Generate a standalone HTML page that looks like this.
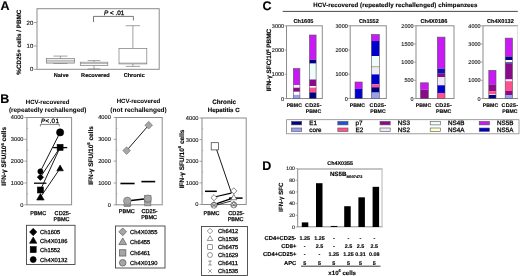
<!DOCTYPE html>
<html><head><meta charset="utf-8"><style>
html,body{margin:0;padding:0;background:#fff;overflow:hidden;}
svg{display:block;will-change:transform;font-family:"Liberation Sans", sans-serif;text-rendering:geometricPrecision;}
text{stroke:#000;stroke-width:0.25px;}
text[font-weight=bold]{stroke-width:0.13px;}
text.lt{stroke-width:0.02px;}
text.tk{stroke-width:0.12px;}
</style></head><body>
<svg width="520" height="276" viewBox="0 0 520 276">
<rect width="520" height="276" fill="#fff"/>
<text x="0.5" y="10.2" font-size="12.5" font-weight="bold" text-anchor="start" fill="#000" >A</text>
<rect x="37" y="8.7" width="122.2" height="60.6" fill="none" stroke="#8c8c8c" stroke-width="1.0"/>
<line x1="34" y1="69.3" x2="37" y2="69.3" stroke="#8c8c8c" stroke-width="0.8"/>
<text x="33.3" y="71.4" font-size="6" font-weight="normal" text-anchor="end" fill="#222" class="tk">0</text>
<line x1="34" y1="46" x2="37" y2="46" stroke="#8c8c8c" stroke-width="0.8"/>
<text x="33.3" y="48.1" font-size="6" font-weight="normal" text-anchor="end" fill="#222" class="tk">10</text>
<line x1="34" y1="22.5" x2="37" y2="22.5" stroke="#8c8c8c" stroke-width="0.8"/>
<text x="33.3" y="24.6" font-size="6" font-weight="normal" text-anchor="end" fill="#222" class="tk">20</text>
<text transform="translate(20.7,42.2) rotate(-90)" font-size="6.3" font-weight="bold" text-anchor="middle" fill="#000">%CD25+ cells / PBMC</text>
<line x1="60.45" y1="56.1" x2="60.45" y2="58.6" stroke="#7a7a7a" stroke-width="0.7"/>
<line x1="53.45" y1="56.1" x2="67.45" y2="56.1" stroke="#7a7a7a" stroke-width="0.7"/>
<line x1="60.45" y1="63.1" x2="60.45" y2="63.5" stroke="#7a7a7a" stroke-width="0.7"/>
<line x1="53.45" y1="63.5" x2="67.45" y2="63.5" stroke="#7a7a7a" stroke-width="0.7"/>
<rect x="46.3" y="58.6" width="28.3" height="4.5" fill="#fff" stroke="#7a7a7a" stroke-width="0.7"/>
<line x1="46.3" y1="60.3" x2="74.6" y2="60.3" stroke="#7a7a7a" stroke-width="0.6"/>
<line x1="46.3" y1="61.9" x2="74.6" y2="61.9" stroke="#7a7a7a" stroke-width="0.6"/>
<line x1="94.05" y1="60.6" x2="94.05" y2="62.2" stroke="#7a7a7a" stroke-width="0.7"/>
<line x1="87.75" y1="60.6" x2="100.35" y2="60.6" stroke="#7a7a7a" stroke-width="0.7"/>
<line x1="94.05" y1="65.5" x2="94.05" y2="69" stroke="#7a7a7a" stroke-width="0.7"/>
<line x1="87.75" y1="69" x2="100.35" y2="69" stroke="#7a7a7a" stroke-width="0.7"/>
<rect x="80.3" y="62.2" width="27.5" height="3.3" fill="#fff" stroke="#7a7a7a" stroke-width="0.7"/>
<line x1="80.3" y1="63.6" x2="107.8" y2="63.6" stroke="#7a7a7a" stroke-width="0.6"/>
<line x1="132.9" y1="25.7" x2="132.9" y2="48.4" stroke="#7a7a7a" stroke-width="0.7"/>
<line x1="125.7" y1="25.7" x2="140.1" y2="25.7" stroke="#7a7a7a" stroke-width="0.7"/>
<line x1="132.9" y1="63.9" x2="132.9" y2="66.4" stroke="#7a7a7a" stroke-width="0.7"/>
<line x1="125.7" y1="66.4" x2="140.1" y2="66.4" stroke="#7a7a7a" stroke-width="0.7"/>
<rect x="119" y="48.4" width="27.8" height="15.5" fill="#fff" stroke="#7a7a7a" stroke-width="0.7"/>
<line x1="119" y1="63.1" x2="146.8" y2="63.1" stroke="#7a7a7a" stroke-width="0.6"/>
<polyline points="93.5,22.1 93.5,16.4 133.4,16.4 133.4,20.5" fill="none" stroke="#555" stroke-width="0.8"/>
<text x="114.1" y="14.9" font-size="6.4" text-anchor="middle"><tspan font-style="italic">P</tspan> &lt; .01</text>
<text x="61.2" y="76.9" font-size="5.6" font-weight="bold" text-anchor="middle" fill="#000" >Naive</text>
<text x="95.4" y="76.9" font-size="5.6" font-weight="bold" text-anchor="middle" fill="#000" >Recovered</text>
<text x="134.2" y="76.9" font-size="5.6" font-weight="bold" text-anchor="middle" fill="#000" >Chronic</text>
<text x="0.2" y="102.8" font-size="12.5" font-weight="bold" text-anchor="start" fill="#000" >B</text>
<rect x="26.9" y="117.5" width="44.7" height="87.3" fill="none" stroke="#8c8c8c" stroke-width="1.0"/>
<line x1="24.4" y1="204.8" x2="26.9" y2="204.8" stroke="#8c8c8c" stroke-width="0.8"/>
<text x="23.5" y="206.7" font-size="5.7" font-weight="normal" text-anchor="end" fill="#222" class="tk">0</text>
<line x1="24.4" y1="182.98" x2="26.9" y2="182.98" stroke="#8c8c8c" stroke-width="0.8"/>
<text x="23.5" y="184.88" font-size="5.7" font-weight="normal" text-anchor="end" fill="#222" class="tk">1000</text>
<line x1="24.4" y1="161.15" x2="26.9" y2="161.15" stroke="#8c8c8c" stroke-width="0.8"/>
<text x="23.5" y="163.05" font-size="5.7" font-weight="normal" text-anchor="end" fill="#222" class="tk">2000</text>
<line x1="24.4" y1="139.32" x2="26.9" y2="139.32" stroke="#8c8c8c" stroke-width="0.8"/>
<text x="23.5" y="141.22" font-size="5.7" font-weight="normal" text-anchor="end" fill="#222" class="tk">3000</text>
<line x1="24.4" y1="117.5" x2="26.9" y2="117.5" stroke="#8c8c8c" stroke-width="0.8"/>
<text x="23.5" y="119.4" font-size="5.7" font-weight="normal" text-anchor="end" fill="#222" class="tk">4000</text>
<line x1="26.9" y1="193.89" x2="28.1" y2="193.89" stroke="#8c8c8c" stroke-width="0.6"/>
<line x1="26.9" y1="172.06" x2="28.1" y2="172.06" stroke="#8c8c8c" stroke-width="0.6"/>
<line x1="26.9" y1="150.24" x2="28.1" y2="150.24" stroke="#8c8c8c" stroke-width="0.6"/>
<line x1="26.9" y1="128.41" x2="28.1" y2="128.41" stroke="#8c8c8c" stroke-width="0.6"/>
<text transform="translate(6.2,156.3) rotate(-90)" font-size="6.5" font-weight="bold" text-anchor="middle" fill="#000">IFN-γ SFU/10<tspan font-size="4.2" dy="-2.3">6</tspan><tspan dy="2.3"> cells</tspan></text>
<text x="38.2" y="215.2" font-size="5.5" font-weight="normal" text-anchor="middle" fill="#000" >PBMC</text>
<text x="62.7" y="215.2" font-size="5.6" font-weight="normal" text-anchor="middle" fill="#000" >CD25-</text>
<text x="61.5" y="221.4" font-size="5.5" font-weight="normal" text-anchor="middle" fill="#000" >PBMC</text>
<line x1="40.4" y1="171.4" x2="60.1" y2="132.4" stroke="#000" stroke-width="0.9"/>
<line x1="40.4" y1="177.2" x2="60.1" y2="147.4" stroke="#000" stroke-width="0.9"/>
<line x1="40.4" y1="190" x2="60.1" y2="147.4" stroke="#000" stroke-width="0.9"/>
<line x1="40.4" y1="197.3" x2="60.1" y2="168.4" stroke="#000" stroke-width="0.9"/>
<line x1="34" y1="183.2" x2="46.4" y2="183.2" stroke="#000" stroke-width="1.3"/>
<line x1="53.1" y1="147.6" x2="67.2" y2="147.6" stroke="#000" stroke-width="1.3"/>
<polygon points="40.4,193.56 44.14,200.02 36.66,200.02" fill="#000" stroke="#000" stroke-width="0.6"/>
<rect x="37.43" y="187.03" width="5.94" height="5.94" fill="#000" stroke="#000" stroke-width="0.6"/>
<polygon points="40.4,174.01 43.59,177.2 40.4,180.39 37.21,177.2" fill="#000" stroke="#000" stroke-width="0.6"/>
<circle cx="40.4" cy="171.4" r="2.6" fill="#000" stroke="#000" stroke-width="0.6"/>
<polygon points="60.1,165.1 63.4,170.8 56.8,170.8" fill="#000" stroke="#000" stroke-width="0.6"/>
<rect x="57.13" y="144.43" width="5.94" height="5.94" fill="#000" stroke="#000" stroke-width="0.6"/>
<circle cx="60.1" cy="132.4" r="3.6" fill="#000" stroke="#000" stroke-width="0.6"/>
<polyline points="40.4,126.4 40.4,124.4 59.3,124.4 59.3,126.4" fill="none" stroke="#333" stroke-width="0.6"/>
<text x="50.1" y="123.2" font-size="6.3" letter-spacing="0.35" text-anchor="middle"><tspan font-style="italic">P</tspan>&lt;.01</text>
<text x="47.6" y="104" font-size="6.1" font-weight="bold" text-anchor="middle" fill="#000" class="lt">HCV-recovered</text>
<text x="47.6" y="112.1" font-size="6.4" font-weight="bold" text-anchor="middle" fill="#000" class="lt">(repeatedly rechallenged)</text>
<rect x="26.5" y="225.3" width="48.5" height="39.2" fill="none" stroke="#444" stroke-width="0.9"/>
<polygon points="33.2,228.37 36.83,232 33.2,235.63 29.57,232" fill="#000" stroke="#000" stroke-width="0.6"/>
<text x="40" y="234.1" font-size="5.8" font-weight="normal" text-anchor="start" fill="#000" >Ch1605</text>
<polygon points="33.2,236.97 36.83,243.24 29.57,243.24" fill="#000" stroke="#000" stroke-width="0.6"/>
<text x="40" y="242.7" font-size="5.8" font-weight="normal" text-anchor="start" fill="#000" >Ch4X0186</text>
<rect x="30.23" y="246.63" width="5.94" height="5.94" fill="#000" stroke="#000" stroke-width="0.6"/>
<text x="40" y="251.7" font-size="5.8" font-weight="normal" text-anchor="start" fill="#000" >Ch1552</text>
<circle cx="33.2" cy="259.6" r="3.0" fill="#000" stroke="#000" stroke-width="0.6"/>
<text x="40" y="261.7" font-size="5.8" font-weight="normal" text-anchor="start" fill="#000" >Ch4X0132</text>
<rect x="116.2" y="117.5" width="46" height="87.3" fill="none" stroke="#8c8c8c" stroke-width="1.0"/>
<line x1="113.7" y1="204.8" x2="116.2" y2="204.8" stroke="#8c8c8c" stroke-width="0.8"/>
<text x="110.8" y="206.7" font-size="5.7" font-weight="normal" text-anchor="end" fill="#222" class="tk">0</text>
<line x1="113.7" y1="182.98" x2="116.2" y2="182.98" stroke="#8c8c8c" stroke-width="0.8"/>
<text x="110.8" y="184.88" font-size="5.7" font-weight="normal" text-anchor="end" fill="#222" class="tk">1000</text>
<line x1="113.7" y1="161.15" x2="116.2" y2="161.15" stroke="#8c8c8c" stroke-width="0.8"/>
<text x="110.8" y="163.05" font-size="5.7" font-weight="normal" text-anchor="end" fill="#222" class="tk">2000</text>
<line x1="113.7" y1="139.32" x2="116.2" y2="139.32" stroke="#8c8c8c" stroke-width="0.8"/>
<text x="110.8" y="141.22" font-size="5.7" font-weight="normal" text-anchor="end" fill="#222" class="tk">3000</text>
<line x1="113.7" y1="117.5" x2="116.2" y2="117.5" stroke="#8c8c8c" stroke-width="0.8"/>
<text x="110.8" y="119.4" font-size="5.7" font-weight="normal" text-anchor="end" fill="#222" class="tk">4000</text>
<line x1="116.2" y1="193.89" x2="117.4" y2="193.89" stroke="#8c8c8c" stroke-width="0.6"/>
<line x1="116.2" y1="172.06" x2="117.4" y2="172.06" stroke="#8c8c8c" stroke-width="0.6"/>
<line x1="116.2" y1="150.24" x2="117.4" y2="150.24" stroke="#8c8c8c" stroke-width="0.6"/>
<line x1="116.2" y1="128.41" x2="117.4" y2="128.41" stroke="#8c8c8c" stroke-width="0.6"/>
<text transform="translate(92.5,155.5) rotate(-90)" font-size="6.5" font-weight="bold" text-anchor="middle" fill="#000">IFN-γ SFU/10<tspan font-size="4.2" dy="-2.3">6</tspan><tspan dy="2.3"> cells</tspan></text>
<text x="126.8" y="213" font-size="5.5" font-weight="normal" text-anchor="middle" fill="#000" >PBMC</text>
<text x="149.6" y="213" font-size="5.6" font-weight="normal" text-anchor="middle" fill="#000" >CD25-</text>
<text x="149.1" y="219.3" font-size="5.5" font-weight="normal" text-anchor="middle" fill="#000" >PBMC</text>
<line x1="126.6" y1="150.6" x2="148.7" y2="125.2" stroke="#000" stroke-width="0.9"/>
<line x1="131" y1="200.5" x2="144" y2="199" stroke="#000" stroke-width="1.3"/>
<line x1="120.4" y1="183.5" x2="134.6" y2="183.5" stroke="#000" stroke-width="1.6"/>
<line x1="141.4" y1="181.6" x2="155.2" y2="181.6" stroke="#000" stroke-width="1.6"/>
<polygon points="126.6,146.75 130.45,150.6 126.6,154.45 122.75,150.6" fill="#a6a6a6" stroke="#6e6e6e" stroke-width="0.6"/>
<polygon points="148.7,121.35 152.55,125.2 148.7,129.05 144.85,125.2" fill="#a6a6a6" stroke="#6e6e6e" stroke-width="0.6"/>
<rect x="124.24" y="200.44" width="6.12" height="6.12" fill="#a6a6a6" stroke="#6e6e6e" stroke-width="0.6"/>
<polygon points="127.3,199.26 131.04,205.72 123.56,205.72" fill="#a6a6a6" stroke="#6e6e6e" stroke-width="0.6"/>
<circle cx="127.3" cy="200.9" r="3.8" fill="#a6a6a6" stroke="#6e6e6e" stroke-width="0.6"/>
<rect x="144.74" y="199.74" width="6.12" height="6.12" fill="#a6a6a6" stroke="#6e6e6e" stroke-width="0.6"/>
<rect x="144.65" y="195.65" width="6.3" height="6.3" fill="#a6a6a6" stroke="#6e6e6e" stroke-width="0.6"/>
<circle cx="147.8" cy="198.5" r="3.6" fill="#a6a6a6" stroke="#6e6e6e" stroke-width="0.6"/>
<text x="138.5" y="102.6" font-size="6.1" font-weight="bold" text-anchor="middle" fill="#000" class="lt">HCV-recovered</text>
<text x="138.5" y="111.5" font-size="6.5" font-weight="bold" text-anchor="middle" fill="#000" class="lt">(not rechallenged)</text>
<rect x="115.5" y="226" width="49.5" height="42" fill="none" stroke="#444" stroke-width="0.9"/>
<polygon points="122.7,227.95 126.55,231.8 122.7,235.65 118.85,231.8" fill="#a6a6a6" stroke="#555" stroke-width="0.7"/>
<text x="130" y="233.9" font-size="5.8" font-weight="normal" text-anchor="start" fill="#000" >Ch4X0355</text>
<polygon points="122.7,237.95 126.55,244.6 118.85,244.6" fill="#a6a6a6" stroke="#555" stroke-width="0.7"/>
<text x="130" y="243.9" font-size="5.8" font-weight="normal" text-anchor="start" fill="#000" >Ch6455</text>
<rect x="119.55" y="249.75" width="6.3" height="6.3" fill="#a6a6a6" stroke="#555" stroke-width="0.7"/>
<text x="130" y="255.0" font-size="5.8" font-weight="normal" text-anchor="start" fill="#000" >Ch6461</text>
<circle cx="122.7" cy="262.8" r="3.3" fill="#a6a6a6" stroke="#555" stroke-width="0.7"/>
<text x="130" y="264.9" font-size="5.8" font-weight="normal" text-anchor="start" fill="#000" >Ch4X0190</text>
<rect x="202" y="118" width="44.2" height="86.5" fill="none" stroke="#8c8c8c" stroke-width="1.0"/>
<line x1="199.5" y1="204.5" x2="202" y2="204.5" stroke="#8c8c8c" stroke-width="0.8"/>
<text x="198.5" y="206.4" font-size="5.7" font-weight="normal" text-anchor="end" fill="#222" class="tk">0</text>
<line x1="199.5" y1="182.88" x2="202" y2="182.88" stroke="#8c8c8c" stroke-width="0.8"/>
<text x="198.5" y="184.78" font-size="5.7" font-weight="normal" text-anchor="end" fill="#222" class="tk">1000</text>
<line x1="199.5" y1="161.25" x2="202" y2="161.25" stroke="#8c8c8c" stroke-width="0.8"/>
<text x="198.5" y="163.15" font-size="5.7" font-weight="normal" text-anchor="end" fill="#222" class="tk">2000</text>
<line x1="199.5" y1="139.62" x2="202" y2="139.62" stroke="#8c8c8c" stroke-width="0.8"/>
<text x="198.5" y="141.53" font-size="5.7" font-weight="normal" text-anchor="end" fill="#222" class="tk">3000</text>
<line x1="199.5" y1="118.0" x2="202" y2="118.0" stroke="#8c8c8c" stroke-width="0.8"/>
<text x="198.5" y="119.9" font-size="5.7" font-weight="normal" text-anchor="end" fill="#222" class="tk">4000</text>
<line x1="202" y1="193.69" x2="203.2" y2="193.69" stroke="#8c8c8c" stroke-width="0.6"/>
<line x1="202" y1="172.06" x2="203.2" y2="172.06" stroke="#8c8c8c" stroke-width="0.6"/>
<line x1="202" y1="150.44" x2="203.2" y2="150.44" stroke="#8c8c8c" stroke-width="0.6"/>
<line x1="202" y1="128.81" x2="203.2" y2="128.81" stroke="#8c8c8c" stroke-width="0.6"/>
<text transform="translate(183.6,159) rotate(-90)" font-size="6.5" font-weight="bold" text-anchor="middle" fill="#000">IFN-γ SFU/10<tspan font-size="4.2" dy="-2.3">6</tspan><tspan dy="2.3"> cells</tspan></text>
<text x="211.5" y="215.2" font-size="5.5" font-weight="normal" text-anchor="middle" fill="#000" >PBMC</text>
<text x="236.4" y="215.2" font-size="5.6" font-weight="normal" text-anchor="middle" fill="#000" >CD25-</text>
<text x="235.6" y="221.4" font-size="5.5" font-weight="normal" text-anchor="middle" fill="#000" >PBMC</text>
<line x1="215.4" y1="146" x2="231.5" y2="193.2" stroke="#000" stroke-width="0.9"/>
<line x1="215.4" y1="196.8" x2="231.2" y2="193.1" stroke="#000" stroke-width="1.1"/>
<line x1="216.8" y1="203.6" x2="231.2" y2="198.6" stroke="#000" stroke-width="1.3"/>
<line x1="216.8" y1="205" x2="231.2" y2="201" stroke="#000" stroke-width="0.8"/>
<line x1="205" y1="191.3" x2="216.8" y2="191.3" stroke="#000" stroke-width="1.5"/>
<line x1="229" y1="198.1" x2="242.6" y2="198.1" stroke="#000" stroke-width="1.5"/>
<rect x="211.2" y="142.7" width="7.2" height="7.2" fill="#fff" stroke="#333" stroke-width="0.7"/>
<polygon points="214,194.62 217.08,197.7 214,200.78 210.92,197.7" fill="#fff" stroke="#333" stroke-width="0.6"/>
<polygon points="233.8,187.82 236.88,190.9 233.8,193.98 230.72,190.9" fill="#fff" stroke="#333" stroke-width="0.6"/>
<polygon points="233.8,194.42 236.88,199.74 230.72,199.74" fill="#fff" stroke="#333" stroke-width="0.6"/>
<circle cx="214" cy="205.2" r="3.0" fill="#fff" stroke="#333" stroke-width="0.6"/>
<path d="M212.32,203.52 L215.68,206.88 M215.68,203.52 L212.32,206.88" fill="none" stroke="#333" stroke-width="0.6"/>
<polygon points="214,201.67 216.53,206.04 211.47,206.04" fill="none" stroke="#333" stroke-width="0.5"/>
<circle cx="233.8" cy="204.9" r="3.0" fill="#fff" stroke="#333" stroke-width="0.6"/>
<path d="M232.12,203.22 L235.48,206.58 M235.48,203.22 L232.12,206.58" fill="none" stroke="#333" stroke-width="0.6"/>
<polygon points="233.8,201.37 236.33,205.74 231.27,205.74" fill="none" stroke="#333" stroke-width="0.5"/>
<text x="224.1" y="103.5" font-size="6.3" font-weight="bold" text-anchor="middle" fill="#000" >Chronic</text>
<text x="223.7" y="111.9" font-size="6.1" font-weight="bold" text-anchor="middle" fill="#000" >Hepatitis C</text>
<rect x="201.5" y="226.5" width="46" height="49" fill="none" stroke="#444" stroke-width="0.9"/>
<polygon points="210,228.25 212.75,231 210,233.75 207.25,231" fill="#fff" stroke="#333" stroke-width="0.5"/>
<text x="218" y="233.1" font-size="5.8" font-weight="normal" text-anchor="start" fill="#000" >Ch6412</text>
<polygon points="210,235.75 212.75,240.5 207.25,240.5" fill="#fff" stroke="#333" stroke-width="0.5"/>
<text x="218" y="240.6" font-size="5.8" font-weight="normal" text-anchor="start" fill="#000" >Ch1536</text>
<rect x="207.75" y="244.75" width="4.5" height="4.5" fill="#fff" stroke="#333" stroke-width="0.5"/>
<text x="218" y="249.1" font-size="5.8" font-weight="normal" text-anchor="start" fill="#000" >Ch6475</text>
<circle cx="210" cy="255" r="2.5" fill="#fff" stroke="#333" stroke-width="0.5"/>
<text x="218" y="257.1" font-size="5.8" font-weight="normal" text-anchor="start" fill="#000" >Ch1629</text>
<path d="M208.25,261.0 H211.75 M208.25,265.0 H211.75 M210,261.0 V265.0" fill="none" stroke="#333" stroke-width="0.5"/>
<text x="218" y="265.1" font-size="5.8" font-weight="normal" text-anchor="start" fill="#000" >Ch6411</text>
<path d="M208.25,269.25 L211.75,272.75 M211.75,269.25 L208.25,272.75" fill="none" stroke="#333" stroke-width="0.5"/>
<text x="218" y="273.1" font-size="5.8" font-weight="normal" text-anchor="start" fill="#000" >Ch1535</text>
<text x="262.4" y="9.8" font-size="12.5" font-weight="bold" text-anchor="start" fill="#000" >C</text>
<text x="313.3" y="7.4" font-size="6.1" font-weight="bold" text-anchor="start" fill="#000" letter-spacing="0.1">HCV-recovered (repeatedly rechallenged) chimpanzees</text>
<line x1="282.7" y1="11.4" x2="517.8" y2="11.4" stroke="#333" stroke-width="0.9"/>
<text transform="translate(271.3,60) rotate(-90)" font-size="6.4" font-weight="bold" text-anchor="middle" fill="#000">IFN-γ SFC/10<tspan font-size="4.2" dy="-2.3">6</tspan><tspan dy="2.3"> PBMC</tspan></text>
<rect x="286.5" y="25.8" width="35.8" height="72.7" fill="none" stroke="#8c8c8c" stroke-width="1.0"/>
<text x="303.5" y="22.7" font-size="5.6" font-weight="bold" text-anchor="middle" fill="#000" >Ch1605</text>
<line x1="284.5" y1="98.5" x2="286.5" y2="98.5" stroke="#8c8c8c" stroke-width="0.7"/>
<text x="284.1" y="100.5" font-size="5.5" font-weight="normal" text-anchor="end" fill="#222" class="tk">0</text>
<line x1="284.5" y1="74.27" x2="286.5" y2="74.27" stroke="#8c8c8c" stroke-width="0.7"/>
<text x="284.1" y="76.27" font-size="5.5" font-weight="normal" text-anchor="end" fill="#222" class="tk">1000</text>
<line x1="284.5" y1="50.03" x2="286.5" y2="50.03" stroke="#8c8c8c" stroke-width="0.7"/>
<text x="284.1" y="52.03" font-size="5.5" font-weight="normal" text-anchor="end" fill="#222" class="tk">2000</text>
<line x1="284.5" y1="25.8" x2="286.5" y2="25.8" stroke="#8c8c8c" stroke-width="0.7"/>
<text x="284.1" y="27.8" font-size="5.5" font-weight="normal" text-anchor="end" fill="#222" class="tk">3000</text>
<text x="294.3" y="106.7" font-size="5.2" font-weight="bold" text-anchor="middle" fill="#000" >PBMC</text>
<text x="313.5" y="106.7" font-size="5.4" font-weight="bold" text-anchor="middle" fill="#000" letter-spacing="0.25">CD25-</text>
<text x="313.5" y="112.8" font-size="5.2" font-weight="bold" text-anchor="middle" fill="#000" >PBMC</text>
<rect x="293.3" y="68.5" width="6.6" height="16.5" fill="#c81af5" stroke="none" stroke-width="1"/>
<rect x="293.3" y="85" width="6.6" height="2.7" fill="#ffffff" stroke="none" stroke-width="1"/>
<rect x="293.3" y="87.7" width="6.6" height="4.1" fill="#8b0a8b" stroke="none" stroke-width="1"/>
<rect x="293.3" y="91.8" width="6.6" height="3.0" fill="#ffffff" stroke="none" stroke-width="1"/>
<rect x="293.3" y="94.8" width="6.6" height="3.7" fill="#9aa0f0" stroke="none" stroke-width="1"/>
<rect x="293.3" y="68.5" width="6.6" height="30.0" fill="none" stroke="#555" stroke-width="0.6"/>
<rect x="309.4" y="35" width="6.7" height="24.8" fill="#c81af5" stroke="none" stroke-width="1"/>
<rect x="309.4" y="59.8" width="6.7" height="3.8" fill="#000080" stroke="none" stroke-width="1"/>
<rect x="309.4" y="63.6" width="6.7" height="15.9" fill="#eefcfc" stroke="none" stroke-width="1"/>
<rect x="309.4" y="79.5" width="6.7" height="6.5" fill="#8b0a8b" stroke="none" stroke-width="1"/>
<rect x="309.4" y="86" width="6.7" height="1.6" fill="#ffffff" stroke="none" stroke-width="1"/>
<rect x="309.4" y="87.6" width="6.7" height="4.8" fill="#ff5090" stroke="none" stroke-width="1"/>
<rect x="309.4" y="92.4" width="6.7" height="6.1" fill="#000080" stroke="none" stroke-width="1"/>
<rect x="309.4" y="35" width="6.7" height="63.5" fill="none" stroke="#555" stroke-width="0.6"/>
<rect x="350.2" y="25.8" width="36.1" height="72.7" fill="none" stroke="#8c8c8c" stroke-width="1.0"/>
<text x="368.9" y="22.7" font-size="5.6" font-weight="bold" text-anchor="middle" fill="#000" >Ch1552</text>
<line x1="348.2" y1="98.5" x2="350.2" y2="98.5" stroke="#8c8c8c" stroke-width="0.7"/>
<text x="347.8" y="100.5" font-size="5.5" font-weight="normal" text-anchor="end" fill="#222" class="tk">0</text>
<line x1="348.2" y1="74.27" x2="350.2" y2="74.27" stroke="#8c8c8c" stroke-width="0.7"/>
<text x="347.8" y="76.27" font-size="5.5" font-weight="normal" text-anchor="end" fill="#222" class="tk">1000</text>
<line x1="348.2" y1="50.03" x2="350.2" y2="50.03" stroke="#8c8c8c" stroke-width="0.7"/>
<text x="347.8" y="52.03" font-size="5.5" font-weight="normal" text-anchor="end" fill="#222" class="tk">2000</text>
<line x1="348.2" y1="25.8" x2="350.2" y2="25.8" stroke="#8c8c8c" stroke-width="0.7"/>
<text x="347.8" y="27.8" font-size="5.5" font-weight="normal" text-anchor="end" fill="#222" class="tk">3000</text>
<text x="357.4" y="106.7" font-size="5.2" font-weight="bold" text-anchor="middle" fill="#000" >PBMC</text>
<text x="378" y="106.7" font-size="5.4" font-weight="bold" text-anchor="middle" fill="#000" letter-spacing="0.25">CD25-</text>
<text x="378" y="112.8" font-size="5.2" font-weight="bold" text-anchor="middle" fill="#000" >PBMC</text>
<rect x="355" y="82" width="7.2" height="6.9" fill="#c81af5" stroke="none" stroke-width="1"/>
<rect x="355" y="88.9" width="7.2" height="9.6" fill="#0000cc" stroke="none" stroke-width="1"/>
<rect x="355" y="82" width="7.2" height="16.5" fill="none" stroke="#555" stroke-width="0.6"/>
<rect x="371.3" y="34.5" width="8.0" height="6.5" fill="#c81af5" stroke="none" stroke-width="1"/>
<rect x="371.3" y="41" width="8.0" height="15" fill="#0000cc" stroke="none" stroke-width="1"/>
<rect x="371.3" y="56" width="8.0" height="10.5" fill="#eefcfc" stroke="none" stroke-width="1"/>
<rect x="371.3" y="66.5" width="8.0" height="0.9" fill="#7a7a30" stroke="none" stroke-width="1"/>
<rect x="371.3" y="67.4" width="8.0" height="7.0" fill="#eeeaf8" stroke="none" stroke-width="1"/>
<rect x="371.3" y="74.4" width="8.0" height="9.9" fill="#0000cc" stroke="none" stroke-width="1"/>
<rect x="371.3" y="84.3" width="8.0" height="3.0" fill="#ff5090" stroke="none" stroke-width="1"/>
<rect x="371.3" y="87.3" width="8.0" height="5.3" fill="#000080" stroke="none" stroke-width="1"/>
<rect x="371.3" y="92.6" width="8.0" height="5.9" fill="#9aa0f0" stroke="none" stroke-width="1"/>
<rect x="371.3" y="34.5" width="8.0" height="64.0" fill="none" stroke="#555" stroke-width="0.6"/>
<rect x="416" y="25.8" width="38" height="72.7" fill="none" stroke="#8c8c8c" stroke-width="1.0"/>
<text x="433.9" y="22.7" font-size="5.6" font-weight="bold" text-anchor="middle" fill="#000" >Ch4X0186</text>
<line x1="414" y1="98.5" x2="416" y2="98.5" stroke="#8c8c8c" stroke-width="0.7"/>
<text x="413.6" y="100.5" font-size="5.5" font-weight="normal" text-anchor="end" fill="#222" class="tk">0</text>
<line x1="414" y1="80.33" x2="416" y2="80.33" stroke="#8c8c8c" stroke-width="0.7"/>
<text x="413.6" y="82.33" font-size="5.5" font-weight="normal" text-anchor="end" fill="#222" class="tk">500</text>
<line x1="414" y1="62.15" x2="416" y2="62.15" stroke="#8c8c8c" stroke-width="0.7"/>
<text x="413.6" y="64.15" font-size="5.5" font-weight="normal" text-anchor="end" fill="#222" class="tk">1000</text>
<line x1="414" y1="43.97" x2="416" y2="43.97" stroke="#8c8c8c" stroke-width="0.7"/>
<text x="413.6" y="45.97" font-size="5.5" font-weight="normal" text-anchor="end" fill="#222" class="tk">1500</text>
<line x1="414" y1="25.8" x2="416" y2="25.8" stroke="#8c8c8c" stroke-width="0.7"/>
<text x="413.6" y="27.8" font-size="5.5" font-weight="normal" text-anchor="end" fill="#222" class="tk">2000</text>
<text x="423.5" y="106.7" font-size="5.2" font-weight="bold" text-anchor="middle" fill="#000" >PBMC</text>
<text x="443.6" y="106.7" font-size="5.4" font-weight="bold" text-anchor="middle" fill="#000" letter-spacing="0.25">CD25-</text>
<text x="443.6" y="112.8" font-size="5.2" font-weight="bold" text-anchor="middle" fill="#000" >PBMC</text>
<rect x="420.5" y="82.8" width="7.8" height="6.8" fill="#c81af5" stroke="none" stroke-width="1"/>
<rect x="420.5" y="89.6" width="7.8" height="8.9" fill="#8b0a8b" stroke="none" stroke-width="1"/>
<rect x="420.5" y="82.8" width="7.8" height="15.7" fill="none" stroke="#555" stroke-width="0.6"/>
<rect x="437.3" y="37.1" width="7.7" height="31.5" fill="#c81af5" stroke="none" stroke-width="1"/>
<rect x="437.3" y="68.6" width="7.7" height="5.1" fill="#1010b0" stroke="none" stroke-width="1"/>
<rect x="437.3" y="73.7" width="7.7" height="3.3" fill="#8b0a8b" stroke="none" stroke-width="1"/>
<rect x="437.3" y="77" width="7.7" height="8.3" fill="#eeeaf8" stroke="none" stroke-width="1"/>
<rect x="437.3" y="85.3" width="7.7" height="7.7" fill="#0000cc" stroke="none" stroke-width="1"/>
<rect x="437.3" y="93" width="7.7" height="5.5" fill="#ff5090" stroke="none" stroke-width="1"/>
<rect x="437.3" y="37.1" width="7.7" height="61.4" fill="none" stroke="#555" stroke-width="0.6"/>
<rect x="483" y="25.8" width="34.5" height="72.7" fill="none" stroke="#8c8c8c" stroke-width="1.0"/>
<text x="500.4" y="22.7" font-size="5.6" font-weight="bold" text-anchor="middle" fill="#000" >Ch4X0132</text>
<line x1="481" y1="98.5" x2="483" y2="98.5" stroke="#8c8c8c" stroke-width="0.7"/>
<text x="480.6" y="100.5" font-size="5.5" font-weight="normal" text-anchor="end" fill="#222" class="tk">0</text>
<line x1="481" y1="80.33" x2="483" y2="80.33" stroke="#8c8c8c" stroke-width="0.7"/>
<text x="480.6" y="82.33" font-size="5.5" font-weight="normal" text-anchor="end" fill="#222" class="tk">1000</text>
<line x1="481" y1="62.15" x2="483" y2="62.15" stroke="#8c8c8c" stroke-width="0.7"/>
<text x="480.6" y="64.15" font-size="5.5" font-weight="normal" text-anchor="end" fill="#222" class="tk">2000</text>
<line x1="481" y1="43.97" x2="483" y2="43.97" stroke="#8c8c8c" stroke-width="0.7"/>
<text x="480.6" y="45.97" font-size="5.5" font-weight="normal" text-anchor="end" fill="#222" class="tk">3000</text>
<line x1="481" y1="25.8" x2="483" y2="25.8" stroke="#8c8c8c" stroke-width="0.7"/>
<text x="480.6" y="27.8" font-size="5.5" font-weight="normal" text-anchor="end" fill="#222" class="tk">4000</text>
<text x="490.5" y="106.7" font-size="5.2" font-weight="bold" text-anchor="middle" fill="#000" >PBMC</text>
<text x="509.9" y="106.7" font-size="5.4" font-weight="bold" text-anchor="middle" fill="#000" letter-spacing="0.25">CD25-</text>
<text x="509.9" y="112.8" font-size="5.2" font-weight="bold" text-anchor="middle" fill="#000" >PBMC</text>
<line x1="517.5" y1="26.3" x2="517.5" y2="98" stroke="#fff" stroke-width="1.2"/>
<line x1="517.5" y1="26.3" x2="517.5" y2="98" stroke="#d8d8d8" stroke-width="0.8"/>
<rect x="488.8" y="70.3" width="7.2" height="14.1" fill="#c81af5" stroke="none" stroke-width="1"/>
<rect x="488.8" y="84.4" width="7.2" height="6.8" fill="#8b0a8b" stroke="none" stroke-width="1"/>
<rect x="488.8" y="91.2" width="7.2" height="3.0" fill="#ff5090" stroke="none" stroke-width="1"/>
<rect x="488.8" y="94.2" width="7.2" height="0.7" fill="#ffffff" stroke="none" stroke-width="1"/>
<rect x="488.8" y="94.9" width="7.2" height="3.6" fill="#000080" stroke="none" stroke-width="1"/>
<rect x="488.8" y="70.3" width="7.2" height="28.2" fill="none" stroke="#555" stroke-width="0.6"/>
<rect x="505.2" y="38.1" width="7.3" height="18.5" fill="#c81af5" stroke="none" stroke-width="1"/>
<rect x="505.2" y="56.6" width="7.3" height="3.4" fill="#000080" stroke="none" stroke-width="1"/>
<rect x="505.2" y="60" width="7.3" height="2.4" fill="#ffffff" stroke="none" stroke-width="1"/>
<rect x="505.2" y="62.4" width="7.3" height="1.2" fill="#000080" stroke="none" stroke-width="1"/>
<rect x="505.2" y="63.6" width="7.3" height="15.9" fill="#8b0a8b" stroke="none" stroke-width="1"/>
<rect x="505.2" y="79.5" width="7.3" height="1.7" fill="#ffffff" stroke="none" stroke-width="1"/>
<rect x="505.2" y="81.2" width="7.3" height="9.8" fill="#ff5090" stroke="none" stroke-width="1"/>
<rect x="505.2" y="91" width="7.3" height="4" fill="#8b0a8b" stroke="none" stroke-width="1"/>
<rect x="505.2" y="95" width="7.3" height="3.5" fill="#9aa0f0" stroke="none" stroke-width="1"/>
<rect x="505.2" y="38.1" width="7.3" height="60.4" fill="none" stroke="#555" stroke-width="0.6"/>
<rect x="286.6" y="119.7" width="232.4" height="14.1" fill="none" stroke="#888" stroke-width="0.8"/>
<rect x="291.5" y="121.4" width="10.2" height="3.5" fill="#000080" stroke="#555" stroke-width="0.6"/>
<text x="309.3" y="125.3" font-size="6.3" font-weight="normal" text-anchor="start" fill="#000" >E1</text>
<rect x="291.5" y="128" width="10.2" height="3.5" fill="#9aa0f0" stroke="#555" stroke-width="0.6"/>
<text x="309.3" y="131.9" font-size="6.3" font-weight="normal" text-anchor="start" fill="#000" >core</text>
<rect x="337.8" y="121.4" width="10.2" height="3.5" fill="#2050d8" stroke="#555" stroke-width="0.6"/>
<text x="355.6" y="125.3" font-size="6.3" font-weight="normal" text-anchor="start" fill="#000" >p7</text>
<rect x="337.8" y="128" width="10.2" height="3.5" fill="#ff5090" stroke="#555" stroke-width="0.6"/>
<text x="355.6" y="131.9" font-size="6.3" font-weight="normal" text-anchor="start" fill="#000" >E2</text>
<rect x="380" y="121.4" width="10.2" height="3.5" fill="#8b0a8b" stroke="#555" stroke-width="0.6"/>
<text x="397.8" y="125.3" font-size="6.3" font-weight="normal" text-anchor="start" fill="#000" >NS3</text>
<rect x="380" y="128" width="10.2" height="3.5" fill="#eeeaf8" stroke="#555" stroke-width="0.6"/>
<text x="397.8" y="131.9" font-size="6.3" font-weight="normal" text-anchor="start" fill="#000" >NS2</text>
<rect x="430.2" y="121.4" width="10.2" height="3.5" fill="#eefcfc" stroke="#555" stroke-width="0.6"/>
<text x="448.0" y="125.3" font-size="6.3" font-weight="normal" text-anchor="start" fill="#000" >NS4B</text>
<rect x="430.2" y="128" width="10.2" height="3.5" fill="#ffffd0" stroke="#555" stroke-width="0.6"/>
<text x="448.0" y="131.9" font-size="6.3" font-weight="normal" text-anchor="start" fill="#000" >NS4A</text>
<rect x="479.2" y="121.4" width="10.2" height="3.5" fill="#c81af5" stroke="#555" stroke-width="0.6"/>
<text x="497.0" y="125.3" font-size="6.3" font-weight="normal" text-anchor="start" fill="#000" >NS5B</text>
<rect x="479.2" y="128" width="10.2" height="3.5" fill="#0000cc" stroke="#555" stroke-width="0.6"/>
<text x="497.0" y="131.9" font-size="6.3" font-weight="normal" text-anchor="start" fill="#000" >NS5A</text>
<text x="262.3" y="170.2" font-size="12.5" font-weight="bold" text-anchor="start" fill="#000" >D</text>
<text x="340.2" y="165" font-size="5.4" font-weight="bold" text-anchor="middle" fill="#000" >Ch4X0355</text>
<rect x="297.7" y="169" width="84.4" height="57.8" fill="none" stroke="#8c8c8c" stroke-width="1.0"/>
<line x1="382.1" y1="169.5" x2="382.1" y2="226.5" stroke="#fff" stroke-width="1.2"/>
<line x1="382.1" y1="169.5" x2="382.1" y2="226.5" stroke="#c4c4c4" stroke-width="0.8"/>
<line x1="295.7" y1="227.0" x2="297.7" y2="227.0" stroke="#8c8c8c" stroke-width="0.7"/>
<text x="294.8" y="228.8" font-size="5.1" font-weight="normal" text-anchor="end" fill="#222" class="tk">0</text>
<line x1="295.7" y1="215.32" x2="297.7" y2="215.32" stroke="#8c8c8c" stroke-width="0.7"/>
<text x="294.8" y="217.12" font-size="5.1" font-weight="normal" text-anchor="end" fill="#222" class="tk">20</text>
<line x1="295.7" y1="203.64" x2="297.7" y2="203.64" stroke="#8c8c8c" stroke-width="0.7"/>
<text x="294.8" y="205.44" font-size="5.1" font-weight="normal" text-anchor="end" fill="#222" class="tk">40</text>
<line x1="295.7" y1="191.96" x2="297.7" y2="191.96" stroke="#8c8c8c" stroke-width="0.7"/>
<text x="294.8" y="193.76" font-size="5.1" font-weight="normal" text-anchor="end" fill="#222" class="tk">60</text>
<line x1="295.7" y1="180.28" x2="297.7" y2="180.28" stroke="#8c8c8c" stroke-width="0.7"/>
<text x="294.8" y="182.08" font-size="5.1" font-weight="normal" text-anchor="end" fill="#222" class="tk">80</text>
<line x1="295.7" y1="168.6" x2="297.7" y2="168.6" stroke="#8c8c8c" stroke-width="0.7"/>
<text x="294.8" y="170.4" font-size="5.1" font-weight="normal" text-anchor="end" fill="#222" class="tk">100</text>
<text transform="translate(283.4,197.2) rotate(-90)" font-size="6.1" font-weight="bold" text-anchor="middle" fill="#000">IFN-γ SFC</text>
<text x="329.9" y="175.9" font-size="6.2" font-weight="bold">NS5B<tspan font-size="3.8" dy="1.7">M007472</tspan></text>
<rect x="301.8" y="222.39" width="6.5" height="4.61" fill="#000" stroke="none" stroke-width="1"/>
<rect x="316" y="183.2" width="6.5" height="43.8" fill="#000" stroke="none" stroke-width="1"/>
<rect x="330.8" y="225.95" width="6.5" height="1.05" fill="#000" stroke="none" stroke-width="1"/>
<rect x="344.2" y="206.21" width="6.5" height="20.79" fill="#000" stroke="none" stroke-width="1"/>
<rect x="358.4" y="197.33" width="6.5" height="29.67" fill="#000" stroke="none" stroke-width="1"/>
<rect x="372.6" y="186.82" width="6.5" height="40.18" fill="#000" stroke="none" stroke-width="1"/>
<text x="296.3" y="240" font-size="5.8" font-weight="bold" text-anchor="end" fill="#000" >CD4+CD25-</text>
<text x="304.7" y="240" font-size="5.4" font-weight="bold" text-anchor="middle" fill="#000" >1.25</text>
<text x="319.4" y="240" font-size="5.4" font-weight="bold" text-anchor="middle" fill="#000" >1.25</text>
<text x="333.8" y="240" font-size="5.4" font-weight="bold" text-anchor="middle" fill="#000" >-</text>
<text x="348.4" y="240" font-size="5.4" font-weight="bold" text-anchor="middle" fill="#000" >-</text>
<text x="360.5" y="240" font-size="5.4" font-weight="bold" text-anchor="middle" fill="#000" >-</text>
<text x="374.3" y="240" font-size="5.4" font-weight="bold" text-anchor="middle" fill="#000" >-</text>
<text x="296.3" y="248.2" font-size="5.8" font-weight="bold" text-anchor="end" fill="#000" >CD8+</text>
<text x="304.7" y="248.2" font-size="5.4" font-weight="bold" text-anchor="middle" fill="#000" >-</text>
<text x="319.4" y="248.2" font-size="5.4" font-weight="bold" text-anchor="middle" fill="#000" >2.5</text>
<text x="333.8" y="248.2" font-size="5.4" font-weight="bold" text-anchor="middle" fill="#000" >-</text>
<text x="348.4" y="248.2" font-size="5.4" font-weight="bold" text-anchor="middle" fill="#000" >2.5</text>
<text x="360.5" y="248.2" font-size="5.4" font-weight="bold" text-anchor="middle" fill="#000" >2.5</text>
<text x="374.3" y="248.2" font-size="5.4" font-weight="bold" text-anchor="middle" fill="#000" >2.5</text>
<text x="296.3" y="256.1" font-size="5.8" font-weight="bold" text-anchor="end" fill="#000" >CD4+CD25+</text>
<text x="304.7" y="256.1" font-size="5.4" font-weight="bold" text-anchor="middle" fill="#000" >-</text>
<text x="319.4" y="256.1" font-size="5.4" font-weight="bold" text-anchor="middle" fill="#000" >-</text>
<text x="333.8" y="256.1" font-size="5.4" font-weight="bold" text-anchor="middle" fill="#000" >1.25</text>
<text x="348.4" y="256.1" font-size="5.4" font-weight="bold" text-anchor="middle" fill="#000" >1.25</text>
<text x="360.5" y="256.1" font-size="5.4" font-weight="bold" text-anchor="middle" fill="#000" >0.31</text>
<text x="374.3" y="256.1" font-size="5.4" font-weight="bold" text-anchor="middle" fill="#000" >0.08</text>
<text x="296.3" y="264.6" font-size="5.8" font-weight="bold" text-anchor="end" fill="#000" >APC</text>
<text x="304.7" y="264.6" font-size="5.4" font-weight="bold" text-anchor="middle" fill="#000" >5</text>
<text x="319.4" y="264.6" font-size="5.4" font-weight="bold" text-anchor="middle" fill="#000" >5</text>
<text x="333.8" y="264.6" font-size="5.4" font-weight="bold" text-anchor="middle" fill="#000" >5</text>
<text x="348.4" y="264.6" font-size="5.4" font-weight="bold" text-anchor="middle" fill="#000" >5</text>
<text x="360.5" y="264.6" font-size="5.4" font-weight="bold" text-anchor="middle" fill="#000" >5</text>
<text x="374.3" y="264.6" font-size="5.4" font-weight="bold" text-anchor="middle" fill="#000" >5</text>
<line x1="301" y1="266.2" x2="380.5" y2="266.2" stroke="#222" stroke-width="0.9"/>
<text x="342.2" y="274.6" font-size="6.1" font-weight="bold" text-anchor="middle">x10<tspan font-size="4" dy="-2.2">6</tspan><tspan dy="2.2"> cells</tspan></text>
</svg>
</body></html>
